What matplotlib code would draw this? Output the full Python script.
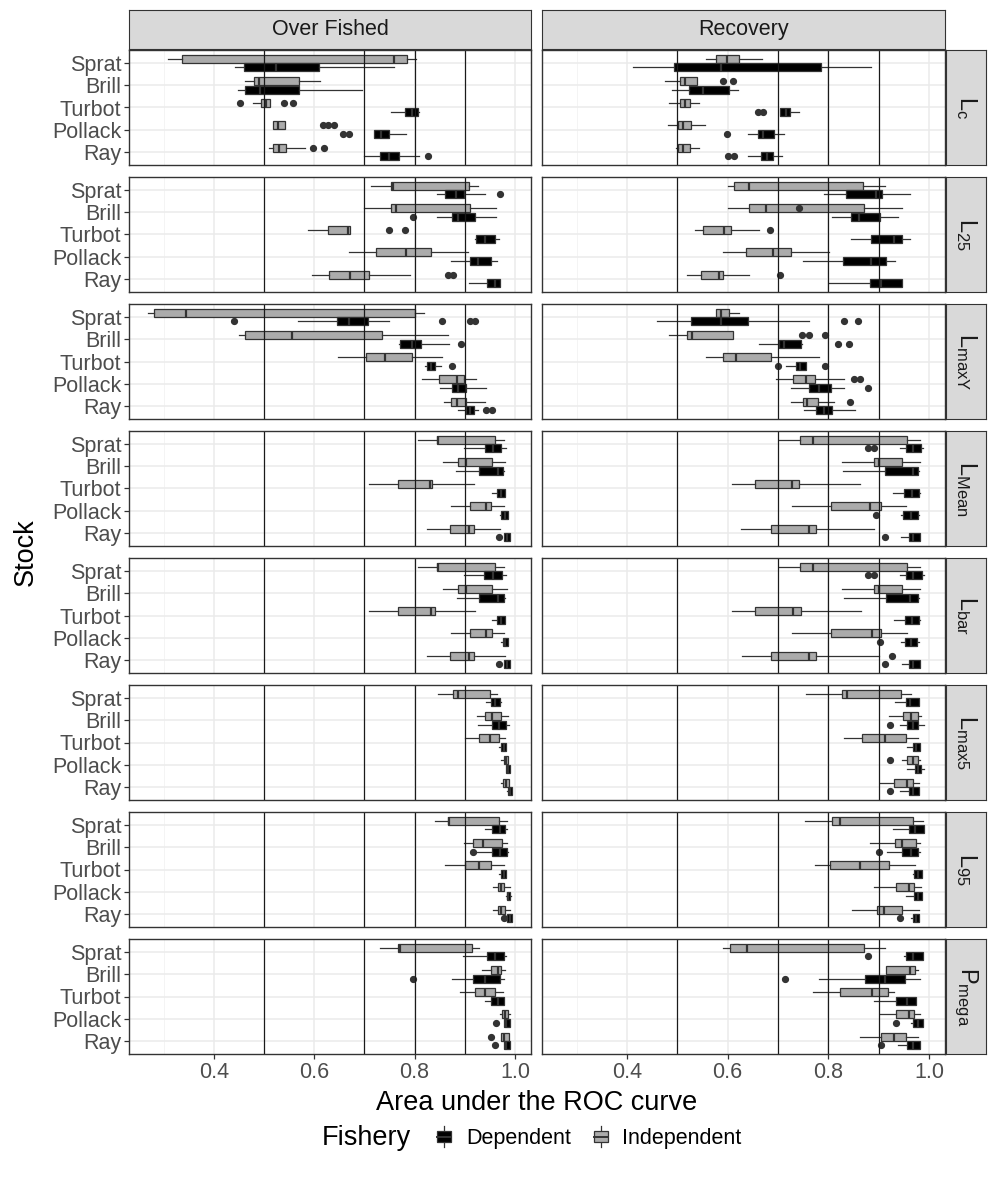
# ROC-curve area boxplots by stock, indicator and fishery phase (facet grid look)
import matplotlib.pyplot as plt
from matplotlib.lines import Line2D
from matplotlib.patches import Rectangle, Patch
from matplotlib.legend_handler import HandlerBase

plt.rcParams['font.family'] = ['Liberation Sans', 'DejaVu Sans']
plt.rcParams['mathtext.default'] = 'regular'

stocks = ["Sprat", "Brill", "Turbot", "Pollack", "Ray"]
phases = ["Over Fished", "Recovery"]
fisheries = ["Dependent", "Independent"]
strip_labels = [r"$L_{c}$", r"$L_{25}$", r"$L_{maxY}$", r"$L_{Mean}$",
                r"$L_{bar}$", r"$L_{max5}$", r"$L_{95}$", r"$P_{mega}$"]
ref_lines = [0.5, 0.7, 0.8, 0.9]

# each stock: (whisker low, q1, median, q3, whisker high, outliers)
# order of stocks: Sprat, Brill, Turbot, Pollack, Ray
lc_over_dep = [
    (0.442, 0.460, 0.523, 0.609, 0.760, []),
    (0.448, 0.4625, 0.492, 0.570, 0.695, []),
    (0.754, 0.781, 0.794, 0.807, 0.809, []),
    (0.719, 0.719, 0.733, 0.749, 0.783, [0.658, 0.669]),
    (0.700, 0.731, 0.750, 0.768, 0.809, [0.827]),
]
lc_over_ind = [
    (0.309, 0.3375, 0.760, 0.785, 0.802, []),
    (0.4625, 0.481, 0.490, 0.570, 0.611, []),
    (0.479, 0.495, 0.504, 0.5125, 0.5125, [0.452, 0.539, 0.557]),
    (0.518, 0.518, 0.528, 0.541, 0.541, [0.617, 0.627, 0.640]),
    (0.510, 0.518, 0.530, 0.544, 0.582, [0.598, 0.619]),
]
lc_rec_dep = [
    (0.4125, 0.494, 0.5875, 0.785, 0.884, []),
    (0.489, 0.523, 0.551, 0.603, 0.621, []),
    (0.705, 0.705, 0.716, 0.723, 0.741, [0.660, 0.671]),
    (0.640, 0.660, 0.671, 0.692, 0.7125, [0.598]),
    (0.640, 0.666, 0.678, 0.690, 0.709, [0.601, 0.6135]),
]
lc_rec_ind = [
    (0.556, 0.577, 0.598, 0.622, 0.669, []),
    (0.476, 0.506, 0.515, 0.5385, 0.5385, [0.590, 0.610]),
    (0.483, 0.506, 0.515, 0.525, 0.544, []),
    (0.481, 0.502, 0.511, 0.527, 0.554, []),
    (0.497, 0.502, 0.511, 0.525, 0.544, []),
]

l25_over_dep = [
    (0.844, 0.861, 0.882, 0.898, 0.940, [0.971]),
    (0.844, 0.874, 0.8875, 0.921, 0.9625, [0.796]),
    (0.921, 0.922, 0.940, 0.960, 0.968, []),
    (0.872, 0.911, 0.927, 0.953, 0.9635, []),
    (0.908, 0.945, 0.960, 0.971, 0.971, []),
]
l25_over_ind = [
    (0.7125, 0.754, 0.757, 0.908, 0.927, []),
    (0.700, 0.754, 0.7625, 0.910, 0.9625, []),
    (0.5875, 0.627, 0.667, 0.671, 0.671, [0.750, 0.781]),
    (0.669, 0.723, 0.783, 0.832, 0.906, []),
    (0.596, 0.630, 0.671, 0.710, 0.791, [0.867, 0.877]),
]
l25_rec_dep = [
    (0.791, 0.835, 0.895, 0.907, 0.9625, []),
    (0.808, 0.846, 0.861, 0.902, 0.9385, []),
    (0.846, 0.884, 0.931, 0.947, 0.9625, []),
    (0.749, 0.830, 0.884, 0.9155, 0.933, []),
    (0.801, 0.882, 0.905, 0.947, 0.947, []),
]
l25_rec_ind = [
    (0.600, 0.6135, 0.643, 0.869, 0.9125, []),
    (0.600, 0.643, 0.676, 0.871, 0.947, [0.742]),
    (0.535, 0.551, 0.593, 0.606, 0.6625, [0.684]),
    (0.590, 0.636, 0.690, 0.726, 0.801, []),
    (0.520, 0.548, 0.582, 0.590, 0.642, [0.705]),
]

lmaxy_over_dep = [
    (0.568, 0.646, 0.669, 0.708, 0.749, [0.440, 0.854, 0.910, 0.921]),
    (0.768, 0.771, 0.794, 0.8125, 0.869, [0.893]),
    (0.820, 0.825, 0.832, 0.841, 0.853, [0.874]),
    (0.851, 0.874, 0.8875, 0.903, 0.943, []),
    (0.8875, 0.903, 0.910, 0.919, 0.926, [0.943, 0.955]),
]
lmaxy_over_ind = [
    (0.268, 0.280, 0.344, 0.801, 0.818, []),
    (0.450, 0.4625, 0.556, 0.736, 0.867, []),
    (0.648, 0.703, 0.742, 0.794, 0.854, []),
    (0.815, 0.848, 0.885, 0.898, 0.922, []),
    (0.859, 0.872, 0.885, 0.903, 0.940, []),
]
lmaxy_rec_dep = [
    (0.460, 0.527, 0.5875, 0.640, 0.7625, [0.832, 0.860]),
    (0.6625, 0.702, 0.7125, 0.746, 0.747, [0.819, 0.841]),
    (0.715, 0.736, 0.744, 0.756, 0.756, [0.700, 0.793]),
    (0.725, 0.7625, 0.782, 0.806, 0.832, [0.879]),
    (0.751, 0.775, 0.791, 0.808, 0.853, []),
]
lmaxy_rec_ind = [
    (0.577, 0.577, 0.5875, 0.603, 0.622, []),
    (0.483, 0.520, 0.530, 0.611, 0.611, [0.747, 0.761, 0.793]),
    (0.556, 0.590, 0.616, 0.686, 0.782, []),
    (0.697, 0.730, 0.756, 0.773, 0.832, [0.851, 0.8635]),
    (0.726, 0.749, 0.757, 0.780, 0.811, [0.843]),
]

lmean_over_dep = [
    (0.898, 0.940, 0.957, 0.973, 0.983, []),
    (0.882, 0.929, 0.966, 0.976, 0.978, []),
    (0.955, 0.9635, 0.973, 0.981, 0.981, []),
    (0.971, 0.973, 0.981, 0.986, 0.986, []),
    (0.979, 0.979, 0.984, 0.990, 0.990, [0.969]),
]
lmean_over_ind = [
    (0.807, 0.844, 0.846, 0.960, 0.978, []),
    (0.856, 0.8875, 0.903, 0.955, 0.981, []),
    (0.710, 0.766, 0.830, 0.835, 0.919, []),
    (0.872, 0.910, 0.942, 0.952, 0.979, []),
    (0.825, 0.870, 0.908, 0.919, 0.971, []),
]
lmean_rec_dep = [
    (0.942, 0.954, 0.968, 0.985, 0.9885, [0.879, 0.890]),
    (0.830, 0.9125, 0.968, 0.978, 0.981, []),
    (0.929, 0.950, 0.966, 0.981, 0.983, []),
    (0.945, 0.949, 0.9645, 0.978, 0.981, [0.895]),
    (0.945, 0.960, 0.968, 0.983, 0.983, [0.9125]),
]
lmean_rec_ind = [
    (0.702, 0.744, 0.770, 0.957, 0.983, []),
    (0.827, 0.890, 0.900, 0.947, 0.983, []),
    (0.608, 0.655, 0.728, 0.741, 0.8635, []),
    (0.728, 0.806, 0.882, 0.905, 0.954, []),
    (0.627, 0.686, 0.7625, 0.775, 0.890, []),
]

lbar_over_dep = [
    (0.898, 0.938, 0.957, 0.974, 0.983, []),
    (0.884, 0.929, 0.966, 0.979, 0.981, []),
    (0.955, 0.9635, 0.973, 0.981, 0.981, []),
    (0.973, 0.976, 0.981, 0.986, 0.986, []),
    (0.979, 0.979, 0.984, 0.990, 0.990, [0.969]),
]
lbar_over_ind = [
    (0.807, 0.844, 0.846, 0.960, 0.978, []),
    (0.856, 0.8875, 0.903, 0.955, 0.9835, []),
    (0.710, 0.766, 0.833, 0.840, 0.921, []),
    (0.872, 0.910, 0.942, 0.955, 0.979, []),
    (0.825, 0.870, 0.908, 0.919, 0.981, []),
]
lbar_rec_dep = [
    (0.942, 0.954, 0.968, 0.986, 0.990, [0.879, 0.890]),
    (0.832, 0.915, 0.963, 0.978, 0.981, []),
    (0.931, 0.952, 0.966, 0.981, 0.983, []),
    (0.945, 0.952, 0.9645, 0.977, 0.981, [0.903]),
    (0.947, 0.960, 0.968, 0.983, 0.983, [0.9125]),
]
lbar_rec_ind = [
    (0.702, 0.744, 0.770, 0.957, 0.983, []),
    (0.827, 0.890, 0.900, 0.947, 0.983, []),
    (0.608, 0.655, 0.730, 0.746, 0.866, []),
    (0.728, 0.806, 0.886, 0.905, 0.957, []),
    (0.629, 0.686, 0.7625, 0.775, 0.901, [0.927]),
]

lmax5_over_dep = [
    (0.943, 0.953, 0.960, 0.971, 0.973, []),
    (0.927, 0.955, 0.969, 0.983, 0.9885, []),
    (0.969, 0.973, 0.978, 0.983, 0.983, []),
    (0.983, 0.983, 0.986, 0.9895, 0.990, []),
    (0.985, 0.986, 0.9895, 0.994, 0.995, []),
]
lmax5_over_ind = [
    (0.846, 0.877, 0.8875, 0.950, 0.9635, []),
    (0.924, 0.940, 0.955, 0.973, 0.986, []),
    (0.900, 0.929, 0.950, 0.969, 0.981, []),
    (0.973, 0.978, 0.9825, 0.986, 0.986, []),
    (0.973, 0.977, 0.983, 0.9885, 0.9885, []),
]
lmax5_rec_dep = [
    (0.933, 0.954, 0.9625, 0.980, 0.980, []),
    (0.942, 0.957, 0.968, 0.978, 0.990, [0.923]),
    (0.957, 0.968, 0.975, 0.983, 0.983, []),
    (0.957, 0.973, 0.978, 0.985, 0.990, []),
    (0.942, 0.960, 0.968, 0.980, 0.980, [0.923]),
]
lmax5_rec_ind = [
    (0.756, 0.827, 0.8375, 0.944, 0.9645, []),
    (0.921, 0.949, 0.9645, 0.978, 0.985, []),
    (0.832, 0.867, 0.9125, 0.954, 0.978, []),
    (0.947, 0.957, 0.968, 0.978, 0.983, [0.923]),
    (0.902, 0.931, 0.957, 0.968, 0.980, []),
]

l95_over_dep = [
    (0.940, 0.955, 0.971, 0.981, 0.984, []),
    (0.920, 0.955, 0.971, 0.984, 0.986, [0.9165]),
    (0.969, 0.973, 0.978, 0.983, 0.983, []),
    (0.983, 0.984, 0.986, 0.990, 0.992, []),
    (0.985, 0.985, 0.9895, 0.994, 0.995, [0.979]),
]
l95_over_ind = [
    (0.841, 0.8665, 0.869, 0.968, 0.984, []),
    (0.898, 0.9155, 0.936, 0.974, 0.984, []),
    (0.861, 0.901, 0.929, 0.953, 0.978, []),
    (0.957, 0.966, 0.973, 0.979, 0.990, []),
    (0.957, 0.966, 0.973, 0.981, 0.990, []),
]
l95_rec_dep = [
    (0.928, 0.960, 0.973, 0.9905, 0.9905, []),
    (0.916, 0.947, 0.9645, 0.978, 0.983, [0.900]),
    (0.968, 0.971, 0.978, 0.9865, 0.9865, []),
    (0.955, 0.971, 0.978, 0.9865, 0.9865, []),
    (0.965, 0.968, 0.975, 0.981, 0.981, [0.942]),
]
l95_rec_ind = [
    (0.754, 0.808, 0.824, 0.968, 0.9885, []),
    (0.882, 0.933, 0.947, 0.975, 0.983, []),
    (0.773, 0.804, 0.8635, 0.921, 0.973, []),
    (0.890, 0.934, 0.960, 0.971, 0.985, []),
    (0.848, 0.897, 0.910, 0.947, 0.980, []),
]

pmega_over_dep = [
    (0.896, 0.945, 0.960, 0.979, 0.983, []),
    (0.875, 0.9155, 0.940, 0.971, 0.979, [0.796]),
    (0.940, 0.952, 0.9655, 0.978, 0.978, []),
    (0.979, 0.979, 0.983, 0.990, 0.990, [0.9625]),
    (0.979, 0.979, 0.983, 0.990, 0.990, [0.960]),
]
pmega_over_ind = [
    (0.731, 0.766, 0.771, 0.9135, 0.929, []),
    (0.934, 0.953, 0.9655, 0.973, 0.981, []),
    (0.890, 0.921, 0.940, 0.960, 0.976, []),
    (0.971, 0.974, 0.980, 0.986, 0.990, []),
    (0.973, 0.973, 0.979, 0.9885, 0.9885, [0.953]),
]
pmega_rec_dep = [
    (0.950, 0.954, 0.968, 0.9885, 0.9885, [0.879]),
    (0.782, 0.872, 0.9125, 0.952, 0.983, [0.7145]),
    (0.890, 0.934, 0.957, 0.975, 0.975, []),
    (0.965, 0.968, 0.978, 0.9885, 0.9885, [0.934]),
    (0.9385, 0.957, 0.968, 0.983, 0.983, [0.905]),
]
pmega_rec_ind = [
    (0.590, 0.605, 0.6375, 0.871, 0.9125, []),
    (0.9155, 0.9155, 0.9625, 0.973, 0.978, []),
    (0.770, 0.824, 0.886, 0.918, 0.931, []),
    (0.902, 0.934, 0.960, 0.971, 0.983, []),
    (0.8635, 0.905, 0.931, 0.954, 0.978, []),
]

# rows of the grid: (over fished dep, over fished ind, recovery dep, recovery ind)
grid_rows = [
    (lc_over_dep, lc_over_ind, lc_rec_dep, lc_rec_ind),
    (l25_over_dep, l25_over_ind, l25_rec_dep, l25_rec_ind),
    (lmaxy_over_dep, lmaxy_over_ind, lmaxy_rec_dep, lmaxy_rec_ind),
    (lmean_over_dep, lmean_over_ind, lmean_rec_dep, lmean_rec_ind),
    (lbar_over_dep, lbar_over_ind, lbar_rec_dep, lbar_rec_ind),
    (lmax5_over_dep, lmax5_over_ind, lmax5_rec_dep, lmax5_rec_ind),
    (l95_over_dep, l95_over_ind, l95_rec_dep, l95_rec_ind),
    (pmega_over_dep, pmega_over_ind, pmega_rec_dep, pmega_rec_ind),
]

fill_colors = {"Dependent": "#000000", "Independent": "#ABABAB"}
edge = "#333333"

W, H = 988, 1182
fig = plt.figure(figsize=(W / 100, H / 100), dpi=100)

col_x = [129, 542]
col_w = [402, 403]
top0, pitch, ph = 50, 127, 115


def to_stats(rows):
    return [dict(whislo=r[0], q1=r[1], med=r[2], q3=r[3], whishi=r[4], fliers=r[5])
            for r in rows]


def draw_boxes(ax, rows, fishery, offset):
    ypos = [len(stocks) - i + offset for i in range(len(stocks))]
    fc = fill_colors[fishery]
    ax.bxp(to_stats(rows), positions=ypos, widths=0.36,
           orientation='horizontal', patch_artist=True, showcaps=False,
           boxprops=dict(facecolor=fc, edgecolor=edge, linewidth=0.9),
           medianprops=dict(color=edge, linewidth=1.6),
           whiskerprops=dict(color=edge, linewidth=0.9),
           flierprops=dict(marker='o', markerfacecolor=edge, markeredgecolor=edge,
                           markersize=4.2, linestyle='none'),
           manage_ticks=False)


for r, row in enumerate(grid_rows):
    top = top0 + r * pitch
    for c in range(2):
        ax = fig.add_axes([col_x[c] / W, 1 - (top + ph) / H, col_w[c] / W, ph / H])
        dep, ind = row[2 * c], row[2 * c + 1]
        for v in ref_lines:
            ax.axvline(v, color='#1A1A1A', linewidth=0.9, zorder=2.5)
        draw_boxes(ax, ind, "Independent", 0.19)
        draw_boxes(ax, dep, "Dependent", -0.19)

        ax.set_xlim(0.231, 1.032)
        ax.set_ylim(0.4, 5.6)
        ax.set_xticks([0.4, 0.6, 0.8, 1.0])
        ax.set_xticks([0.3, 0.5, 0.7, 0.9], minor=True)
        ax.set_yticks(range(1, len(stocks) + 1))
        ax.set_yticklabels(stocks[::-1])
        ax.set_xticklabels(["0.4", "0.6", "0.8", "1.0"])
        ax.set_axisbelow(True)
        ax.grid(which='major', color='#EBEBEB', linewidth=1.1)
        ax.grid(which='minor', axis='x', color='#F2F2F2', linewidth=0.6)
        for s in ax.spines.values():
            s.set_color(edge)
            s.set_linewidth(1.0)
        ax.tick_params(which='minor', length=0)
        ax.tick_params(which='major', length=3.5, width=0.9, color=edge,
                       labelsize=15.5, labelcolor='#4D4D4D', pad=2)
        ax.tick_params(axis='y', left=(c == 0), labelleft=(c == 0))
        ax.tick_params(axis='x', bottom=(r == len(grid_rows) - 1),
                       labelbottom=(r == len(grid_rows) - 1))

        # top strips
        if r == 0:
            sa = fig.add_axes([col_x[c] / W, 1 - 49 / H, col_w[c] / W, 39 / H])
            sa.set_facecolor('#D9D9D9')
            sa.set_xticks([])
            sa.set_yticks([])
            for s in sa.spines.values():
                s.set_color(edge)
            sa.text(0.5, 0.5, phases[c], ha='center', va='center',
                    fontsize=15.5, color='#1A1A1A', transform=sa.transAxes)

    # right strip
    sa = fig.add_axes([946 / W, 1 - (top + ph) / H, 40 / W, ph / H])
    sa.set_facecolor('#D9D9D9')
    sa.set_xticks([])
    sa.set_yticks([])
    for s in sa.spines.values():
        s.set_color(edge)
    sa.text(0.5, 0.5, strip_labels[r], ha='center', va='center', rotation=-90,
            fontsize=17, color='#1A1A1A', transform=sa.transAxes)

fig.text(537 / W, 1 - 1103 / H, "Area under the ROC curve", ha='center', va='center',
         fontsize=19.5, color='black')
fig.text(26 / W, 1 - 552 / H, "Stock", ha='center', va='center', rotation=90,
         fontsize=19.5, color='black')


# legend key drawn like a small boxplot
class BoxKey(HandlerBase):
    def create_artists(self, legend, orig_handle, xdescent, ydescent, width, height,
                       fontsize, trans):
        cx = -xdescent + width / 2
        cy = -ydescent + height / 2
        bw, bh = width * 0.8, height * 0.6
        whisk = Line2D([cx, cx], [cy - height * 0.55, cy + height * 0.55],
                       color=edge, linewidth=0.9, transform=trans)
        box = Rectangle((cx - bw / 2, cy - bh / 2), bw, bh,
                        facecolor=orig_handle.get_facecolor(), edgecolor=edge,
                        linewidth=0.9, transform=trans)
        med = Line2D([cx - bw / 2, cx + bw / 2], [cy, cy], color=edge,
                     linewidth=1.4, transform=trans)
        return [whisk, box, med]


handles = [Patch(facecolor=fill_colors[f]) for f in fisheries]
fig.legend(handles, fisheries, handler_map={Patch: BoxKey()}, ncol=2,
           loc='center left', bbox_to_anchor=(425 / W, 1 - 1138 / H), frameon=False,
           fontsize=15.5, handlelength=0.8, handleheight=1.0, handletextpad=0.6,
           columnspacing=1.0, borderpad=0)
fig.text(322 / W, 1 - 1138 / H, "Fishery", ha='left', va='center', fontsize=19.5)

fig.savefig("out.png", dpi=100)
